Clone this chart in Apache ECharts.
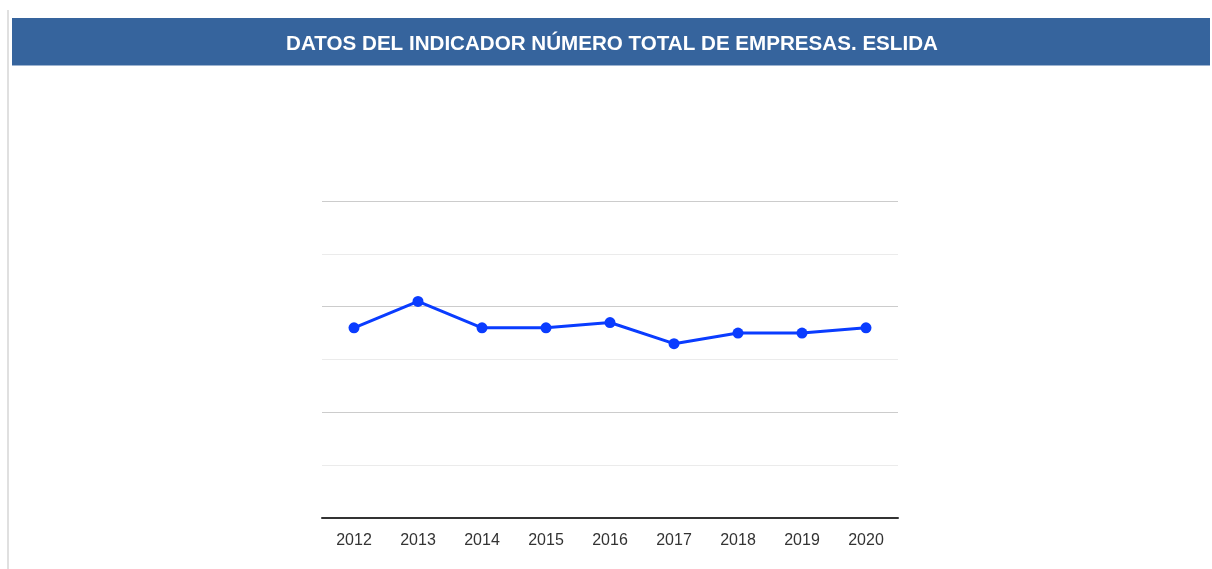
<!DOCTYPE html>
<html>
<head>
<meta charset="utf-8">
<script src="https://cdn.jsdelivr.net/npm/echarts@6/dist/echarts.min.js"></script>
<style>
  html, body { margin: 0; padding: 0; background: #fff; }
  #chart { width: 1212px; height: 569px; }
</style>
</head>
<body>
<div id="chart"></div>
<script>
// datos
const years = ["2012", "2013", "2014", "2015", "2016", "2017", "2018", "2019", "2020"];
const empresas = [36, 41, 36, 36, 37, 33, 35, 35, 36];
const titulo = "DATOS DEL INDICADOR NÚMERO TOTAL DE EMPRESAS. ESLIDA";

const myChart = echarts.init(document.getElementById("chart"));

const option = {
  animation: false,
  textStyle: { fontFamily: "Liberation Sans, Arial, sans-serif" },
  graphic: [
    // borde gris a la izquierda
    { type: "rect", shape: { x: 7, y: 10, width: 2, height: 559 }, style: { fill: "#e0e0e0" } },
    // barra azul del titulo
    { type: "rect", shape: { x: 12, y: 18, width: 1198, height: 48 }, style: { fill: "#36649d" } },
    { type: "rect", shape: { x: 12, y: 65, width: 1198, height: 1 }, style: { fill: "#9db3d0" } }
  ],
  title: {
    text: titulo,
    left: 607,
    top: 29,
    textAlign: "center",
    textStyle: { color: "#fff", fontSize: 20.6, fontWeight: "bold" }
  },
  grid: { left: 322, right: 314, top: 201, bottom: 51 },
  xAxis: {
    type: "category",
    data: years,
    boundaryGap: true,
    axisLine: { lineStyle: { color: "#333", width: 2 } },
    axisTick: { show: false },
    axisLabel: { color: "#333", fontSize: 16, margin: 15 }
  },
  yAxis: {
    type: "value",
    min: 0,
    max: 60,
    interval: 10,
    axisLabel: { show: false },
    axisLine: { show: false },
    axisTick: { show: false },
    splitLine: { lineStyle: { color: ["#cccccc", "#ebebeb"], width: 1 } }
  },
  series: [
    {
      name: "Empresas",
      type: "line",
      data: empresas,
      symbol: "circle",
      symbolSize: 11,
      itemStyle: { color: "#0a3cff" },
      lineStyle: { color: "#0a3cff", width: 3 }
    }
  ]
};
myChart.setOption(option);
</script>
</body>
</html>
